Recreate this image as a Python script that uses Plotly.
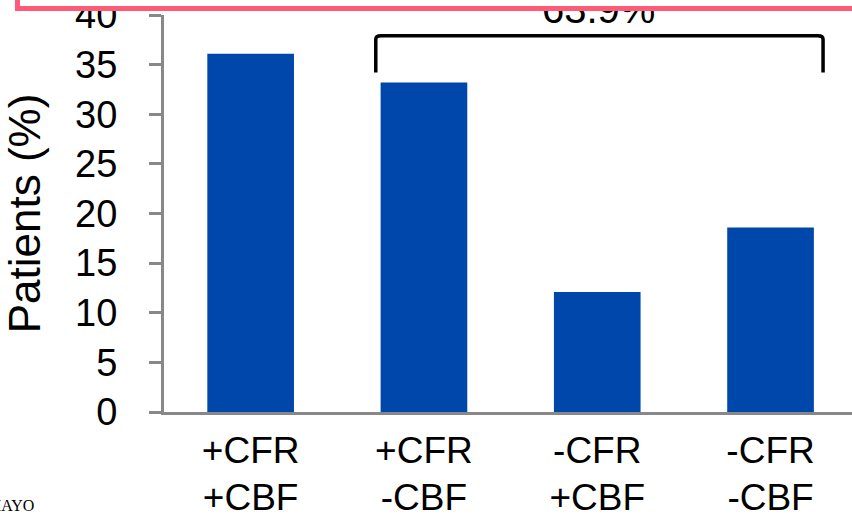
import plotly.graph_objects as go

# Share of patients in each CFR / CBF combination
cfr_labels = ["+CFR", "+CFR", "-CFR", "-CFR"]
cbf_labels = ["+CBF", "-CBF", "+CBF", "-CBF"]
patients_pct = [36.1, 33.2, 12.1, 18.6]
y_ticks = [0, 5, 10, 15, 20, 25, 30, 35, 40]

# combined share of the three groups under the bracket
bracket_total = round(sum(patients_pct[1:]), 1)
bracket_label = f"{bracket_total}%"

BAR = "#0047AB"
AXIS = "#888888"
FONT = "Liberation Sans, Arial, sans-serif"
positions = list(range(len(patients_pct)))

fig = go.Figure()

fig.add_trace(go.Bar(
    x=positions,
    y=patients_pct,
    marker=dict(color=BAR, line=dict(width=0)),
    width=0.5,
    showlegend=False,
    hoverinfo="skip",
))

# transparent companion trace so the second label row's axis is rendered
fig.add_trace(go.Scatter(
    x=positions,
    y=patients_pct,
    xaxis="x2",
    mode="markers",
    marker=dict(opacity=0),
    showlegend=False,
    hoverinfo="skip",
))

# bracket spanning the last three groups
bx0, bx1, by0, by1 = 0.722, 3.303, 34.2, 37.9
r_x, r_y = 0.03, 0.35
bracket_path = (
    f"M {bx0},{by0} L {bx0},{by1 - r_y} Q {bx0},{by1} {bx0 + r_x},{by1} "
    f"L {bx1 - r_x},{by1} Q {bx1},{by1} {bx1},{by1 - r_y} L {bx1},{by0}"
)

fig.update_layout(
    width=852, height=517,
    margin=dict(l=164, r=0, t=15, b=105),
    paper_bgcolor="white",
    plot_bgcolor="white",
    font=dict(family=FONT, color="black"),
    shapes=[
        dict(type="path", xref="x", yref="y", path=bracket_path,
             line=dict(color="black", width=3.5), layer="above"),
    ],
    annotations=[
        # percentage above the bracket
        dict(text=bracket_label, xref="x", yref="y",
             x=2.01, y=38.2, xanchor="center", yanchor="bottom",
             showarrow=False,
             font=dict(family=FONT, size=40, color="black")),
        # framed white banner along the top edge, laid over the label
        dict(text=" ", xref="paper", yref="paper",
             x=-0.2166, y=1.0113, xanchor="left", yanchor="bottom",
             width=1000, height=60,
             bgcolor="white", bordercolor="#FF5A78", borderwidth=5,
             showarrow=False),
        dict(text="MAYO", xref="paper", yref="paper",
             x=-0.186, y=-0.262, xanchor="right", yanchor="bottom",
             showarrow=False,
             font=dict(family="Liberation Serif, Times New Roman, serif",
                       size=16, color="black")),
    ],
    xaxis=dict(
        range=[-0.5, 3.47],
        tickmode="array", tickvals=positions, ticktext=cfr_labels,
        ticks="",
        showline=True, linecolor=AXIS, linewidth=3,
        showgrid=False, zeroline=False,
        tickfont=dict(family=FONT, size=37, color="black"),
        ticklabelstandoff=4,
        automargin=False, fixedrange=True,
    ),
    # second row of category labels (CBF status) on an overlaid axis
    xaxis2=dict(
        overlaying="x", side="bottom", anchor="y",
        range=[-0.5, 3.47],
        tickmode="array", tickvals=positions, ticktext=cbf_labels,
        ticks="", showline=False, showgrid=False, zeroline=False,
        tickfont=dict(family=FONT, size=37, color="black"),
        ticklabelstandoff=60,
        automargin=False, fixedrange=True,
    ),
    yaxis=dict(
        range=[0, 40],
        tickmode="array", tickvals=y_ticks,
        ticktext=[str(v) for v in y_ticks],
        ticks="outside", ticklen=12, tickwidth=3, tickcolor=AXIS,
        showline=True, linecolor=AXIS, linewidth=3,
        showgrid=False, zeroline=False,
        tickfont=dict(family=FONT, size=38, color="black"),
        ticklabelstandoff=24,
        ticklabeloverflow="allow",
        title=dict(text="Patients (%)",
                   font=dict(family=FONT, size=44, color="black"),
                   standoff=22),
        automargin=False, fixedrange=True,
    ),
)

fig.write_html("out.html", config={"displayModeBar": False})
